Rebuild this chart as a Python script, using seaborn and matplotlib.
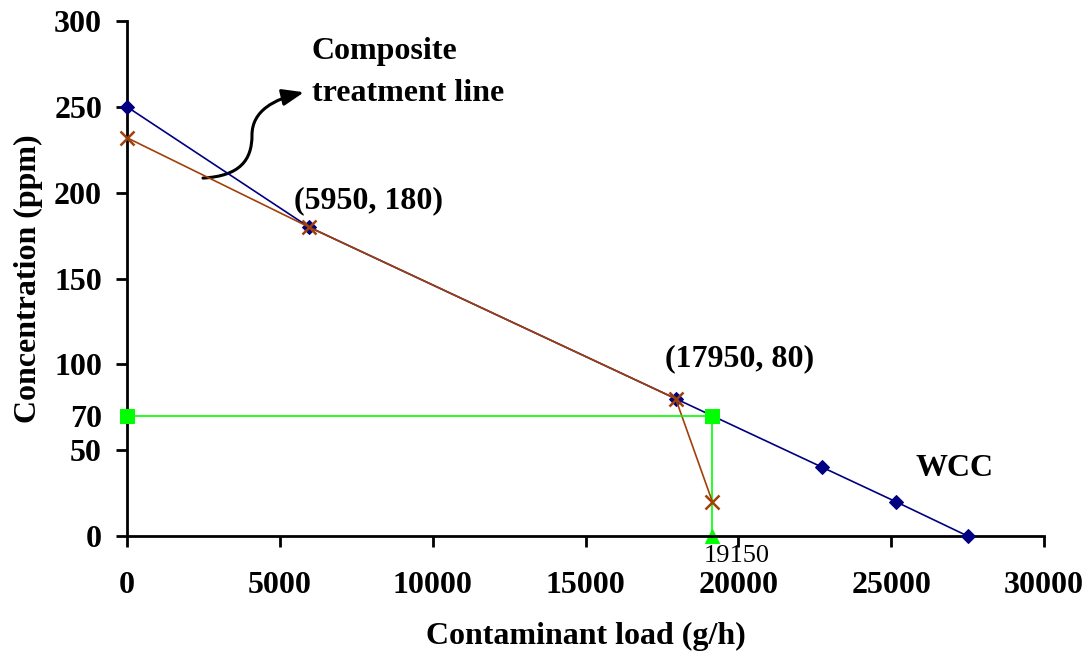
import numpy as np
import pandas as pd
import matplotlib
matplotlib.use("Agg")
import matplotlib.pyplot as plt
import seaborn as sns
from matplotlib.patches import FancyArrowPatch
from matplotlib.path import Path

# ---- data ----
wcc_load = [0, 5950, 17950, 22750, 25150, 27500]
wcc_conc = [250, 180, 80, 40, 20, 0]

comp_load = [0, 5950, 17950, 19150]
comp_conc = [232, 180, 80, 20]

target_load = [0, 19150]
target_conc = [70, 70]

drop_load = [19150, 19150]
drop_conc = [70, 0]

x_ticks = [0, 5000, 10000, 15000, 20000, 25000, 30000]
y_ticks = [0, 50, 70, 100, 150, 200, 250, 300]

sns.set_theme(style="white")
plt.rcParams['font.family'] = ['Liberation Serif', 'DejaVu Serif']
plt.rcParams['text.color'] = 'black'
plt.rcParams['axes.labelcolor'] = 'black'
plt.rcParams['xtick.color'] = 'black'
plt.rcParams['ytick.color'] = 'black'

fig = plt.figure(figsize=(10.89, 6.61), dpi=100)
ax = fig.add_axes([127/1089, 125/661, (1044-127)/1089, (536-21)/661])

navy = "#000080"
brown = "#A0400A"
green = "#00FF00"

sns.lineplot(x=wcc_load, y=wcc_conc, ax=ax, sort=False, estimator=None,
             color=navy, lw=1.2, marker="D", markersize=7, markeredgecolor=navy,
             clip_on=False, zorder=3)
sns.lineplot(x=comp_load, y=comp_conc, ax=ax, sort=False, estimator=None,
             color=brown, lw=1.2, marker="x", markersize=10, markeredgewidth=1.8,
             markeredgecolor=brown, clip_on=False, zorder=4)
sns.lineplot(x=drop_load, y=drop_conc, ax=ax, sort=False, estimator=None,
             color=green, lw=1.2, marker="^", markersize=10, markeredgecolor=green,
             clip_on=False, zorder=2)
sns.lineplot(x=target_load, y=target_conc, ax=ax, sort=False, estimator=None,
             color=green, lw=1.2, marker="s", markersize=10, markeredgecolor=green,
             clip_on=False, zorder=5)

ax.set_xlim(0, 30000)
ax.set_ylim(0, 300)
ax.set_xticks(x_ticks)
ax.set_yticks(y_ticks)
ax.set_xticklabels([str(v) for v in x_ticks])
ax.set_yticklabels([str(v) for v in y_ticks])

for s in ["top", "right"]:
    ax.spines[s].set_visible(False)
for s in ["left", "bottom"]:
    ax.spines[s].set_color("black")
    ax.spines[s].set_linewidth(2)

ax.tick_params(axis="x", direction="out", length=8, width=2, color="black",
               pad=17, labelsize=23, bottom=True, labelcolor="black")
ax.tick_params(axis="y", direction="out", length=8, width=2, color="black",
               pad=10, labelsize=23, left=True, labelcolor="black")
for lab in ax.get_xticklabels() + ax.get_yticklabels():
    lab.set_fontweight("bold")
# no tick mark at 70
ax.yaxis.get_major_ticks()[2].tick1line.set_visible(False)

ax.set_xlabel("Contaminant load (g/h)", fontsize=23, fontweight="bold", labelpad=16)
ax.set_ylabel("Concentration (ppm)", fontsize=23, fontweight="bold", labelpad=8)
ax.grid(False)

ax.text(6050, 282, "Composite", fontsize=23, fontweight="bold", ha="left", va="center")
ax.text(6050, 258, "treatment line", fontsize=23, fontweight="bold", ha="left", va="center")
ax.text(5450, 195.5, "(5950, 180)", fontsize=23, fontweight="bold", ha="left", va="center")
ax.text(17600, 103.5, "(17950, 80)", fontsize=23, fontweight="bold", ha="left", va="center")
ax.text(25800, 39.5, "WCC", fontsize=23, fontweight="bold", ha="left", va="center")
ax.text(18850, -5, "19150", fontsize=19, ha="left", va="top", clip_on=False)

verts = [(2486, 208.5), (3697, 209.7), (4089, 219.0), (4089, 233.5),
         (4089, 248.0), (4841, 254.5), (5790, 258.5)]
codes = [Path.MOVETO, Path.CURVE4, Path.CURVE4, Path.CURVE4,
         Path.CURVE4, Path.CURVE4, Path.CURVE4]
arrow = FancyArrowPatch(path=Path(verts, codes), arrowstyle="-|>,head_length=13,head_width=5",
                        color="black", lw=2.2, mutation_scale=1, shrinkA=0, shrinkB=0)
ax.add_patch(arrow)

fig.savefig("out.png", dpi=100)
